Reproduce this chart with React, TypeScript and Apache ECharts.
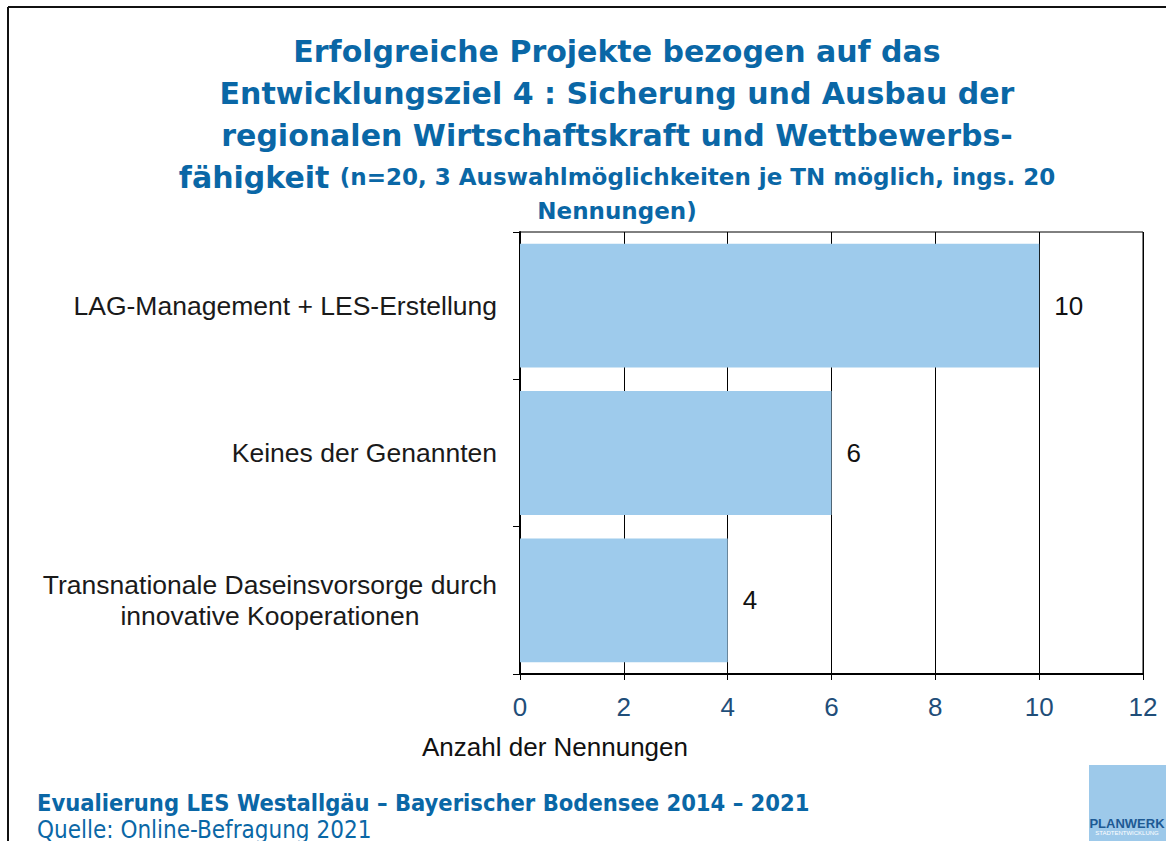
import React, { useEffect, useRef } from "react";
import * as echarts from "echarts";

const categories = [
  "LAG-Management + LES-Erstellung",
  "Keines der Genannten",
  "Transnationale Daseinsvorsorge durch\ninnovative Kooperationen",
];
const values = [10, 6, 4];
const xMin = 0;
const xMax = 12;
const xInterval = 2;
const axisName = "Anzahl der Nennungen";
const titleLines = [
  "Erfolgreiche Projekte bezogen auf das",
  "Entwicklungsziel 4 : Sicherung und Ausbau der",
  "regionalen Wirtschaftskraft und Wettbewerbs-",
  "fähigkeit {s|(n=20, 3 Auswahlmöglichkeiten je TN möglich, ings. 20}",
  "{s|Nennungen)}",
];
const footer1 = "Evualierung LES Westallgäu – Bayerischer Bodensee 2014 – 2021";
const footer2 = "Quelle: Online-Befragung 2021";

const BLUE = "#0a67a6";
const BAR = "#9ecbec";
const TITLE_FONT = "'DejaVu Sans', 'Noto Sans', sans-serif";
const FOOT_FONT = "'DejaVu Sans Condensed', 'DejaVu Sans', sans-serif";
const BODY_FONT = "'Liberation Sans', Arial, sans-serif";

export default function App() {
  const ref = useRef<HTMLDivElement>(null);
  useEffect(() => {
    if (!ref.current) return;
    const chart = echarts.init(ref.current, null, { renderer: "svg" });
    chart.setOption({
      animation: false,
      backgroundColor: "#ffffff",
      title: {
        text: titleLines.join("\n"),
        left: 612,
        top: 25,
        textAlign: "center",
        textStyle: {
          fontFamily: TITLE_FONT,
          fontSize: 30,
          fontWeight: "bold",
          color: BLUE,
          lineHeight: 42,
          rich: {
            s: {
              fontFamily: TITLE_FONT,
              fontSize: 23,
              fontWeight: "bold",
              color: BLUE,
              lineHeight: 26,
            },
          },
        },
      },
      grid: {
        left: 520,
        right: 23,
        top: 232,
        bottom: 167,
        show: true,
        borderColor: "#000",
        borderWidth: 1,
        backgroundColor: "transparent",
      },
      xAxis: {
        type: "value",
        min: xMin,
        max: xMax,
        interval: xInterval,
        axisLine: { show: true, lineStyle: { color: "#000", width: 2 } },
        axisTick: { show: true, length: 6, lineStyle: { color: "#000", width: 1 } },
        splitLine: { show: true, lineStyle: { color: "#000", width: 1 } },
        axisLabel: {
          fontFamily: BODY_FONT,
          fontSize: 26,
          color: "#1f4e79",
          margin: 20,
        },
      },
      yAxis: {
        type: "category",
        data: categories,
        inverse: true,
        axisLine: { show: true, lineStyle: { color: "#000", width: 2 } },
        axisTick: { show: true, length: 7, lineStyle: { color: "#000", width: 1 } },
        axisLabel: {
          fontFamily: BODY_FONT,
          fontSize: 26.5,
          color: "#1a1a1a",
          margin: 23,
          lineHeight: 31,
          formatter: (v: string) =>
            v.includes("\n")
              ? v
                  .split("\n")
                  .map((l) => "{c|" + l + "}")
                  .join("\n")
              : v,
          rich: {
            c: {
              fontFamily: BODY_FONT,
              fontSize: 26.5,
              color: "#1a1a1a",
              lineHeight: 31,
              align: "center",
            },
          },
        },
      },
      series: [
        {
          type: "bar",
          data: values,
          barCategoryGap: "16%",
          itemStyle: { color: BAR },
          label: {
            show: true,
            position: "right",
            distance: 15,
            fontFamily: BODY_FONT,
            fontSize: 26,
            color: "#111",
          },
        },
      ],
      graphic: [
        {
          type: "line",
          shape: { x1: 8, y1: 7, x2: 1166, y2: 7 },
          style: { stroke: "#111", lineWidth: 2 },
        },
        {
          type: "line",
          shape: { x1: 8, y1: 7, x2: 8, y2: 841 },
          style: { stroke: "#111", lineWidth: 2 },
        },
        {
          type: "text",
          x: 555,
          y: 747,
          style: {
            text: axisName,
            fontFamily: BODY_FONT,
            fontSize: 26,
            fill: "#111",
            align: "center",
            verticalAlign: "middle",
          },
        },
        {
          type: "text",
          x: 37,
          y: 803,
          style: {
            text: footer1,
            fontFamily: FOOT_FONT,
            fontSize: 23.5,
            fontWeight: 600,
            fill: BLUE,
            align: "left",
            verticalAlign: "middle",
          },
        },
        {
          type: "text",
          x: 37,
          y: 830,
          style: {
            text: footer2,
            fontFamily: FOOT_FONT,
            fontSize: 24,
            fill: BLUE,
            align: "left",
            verticalAlign: "middle",
          },
        },
        {
          type: "rect",
          shape: { x: 1089, y: 765, width: 77, height: 76 },
          style: { fill: "#9dc9ea" },
        },
        {
          type: "text",
          x: 1127,
          y: 823,
          style: {
            text: "PLANWERK",
            fontFamily: BODY_FONT,
            fontSize: 13,
            fontWeight: "bold",
            fill: "#1d5a94",
            align: "center",
            verticalAlign: "middle",
          },
        },
        {
          type: "text",
          x: 1127,
          y: 833,
          style: {
            text: "STADTENTWICKLUNG",
            fontFamily: BODY_FONT,
            fontSize: 6,
            fill: "#ffffff",
            align: "center",
            verticalAlign: "middle",
          },
        },
      ],
    });
    return () => chart.dispose();
  }, []);
  return (
    <div
      ref={ref}
      style={{ position: "fixed", left: 0, top: 0, width: 1166, height: 841 }}
    />
  );
}
